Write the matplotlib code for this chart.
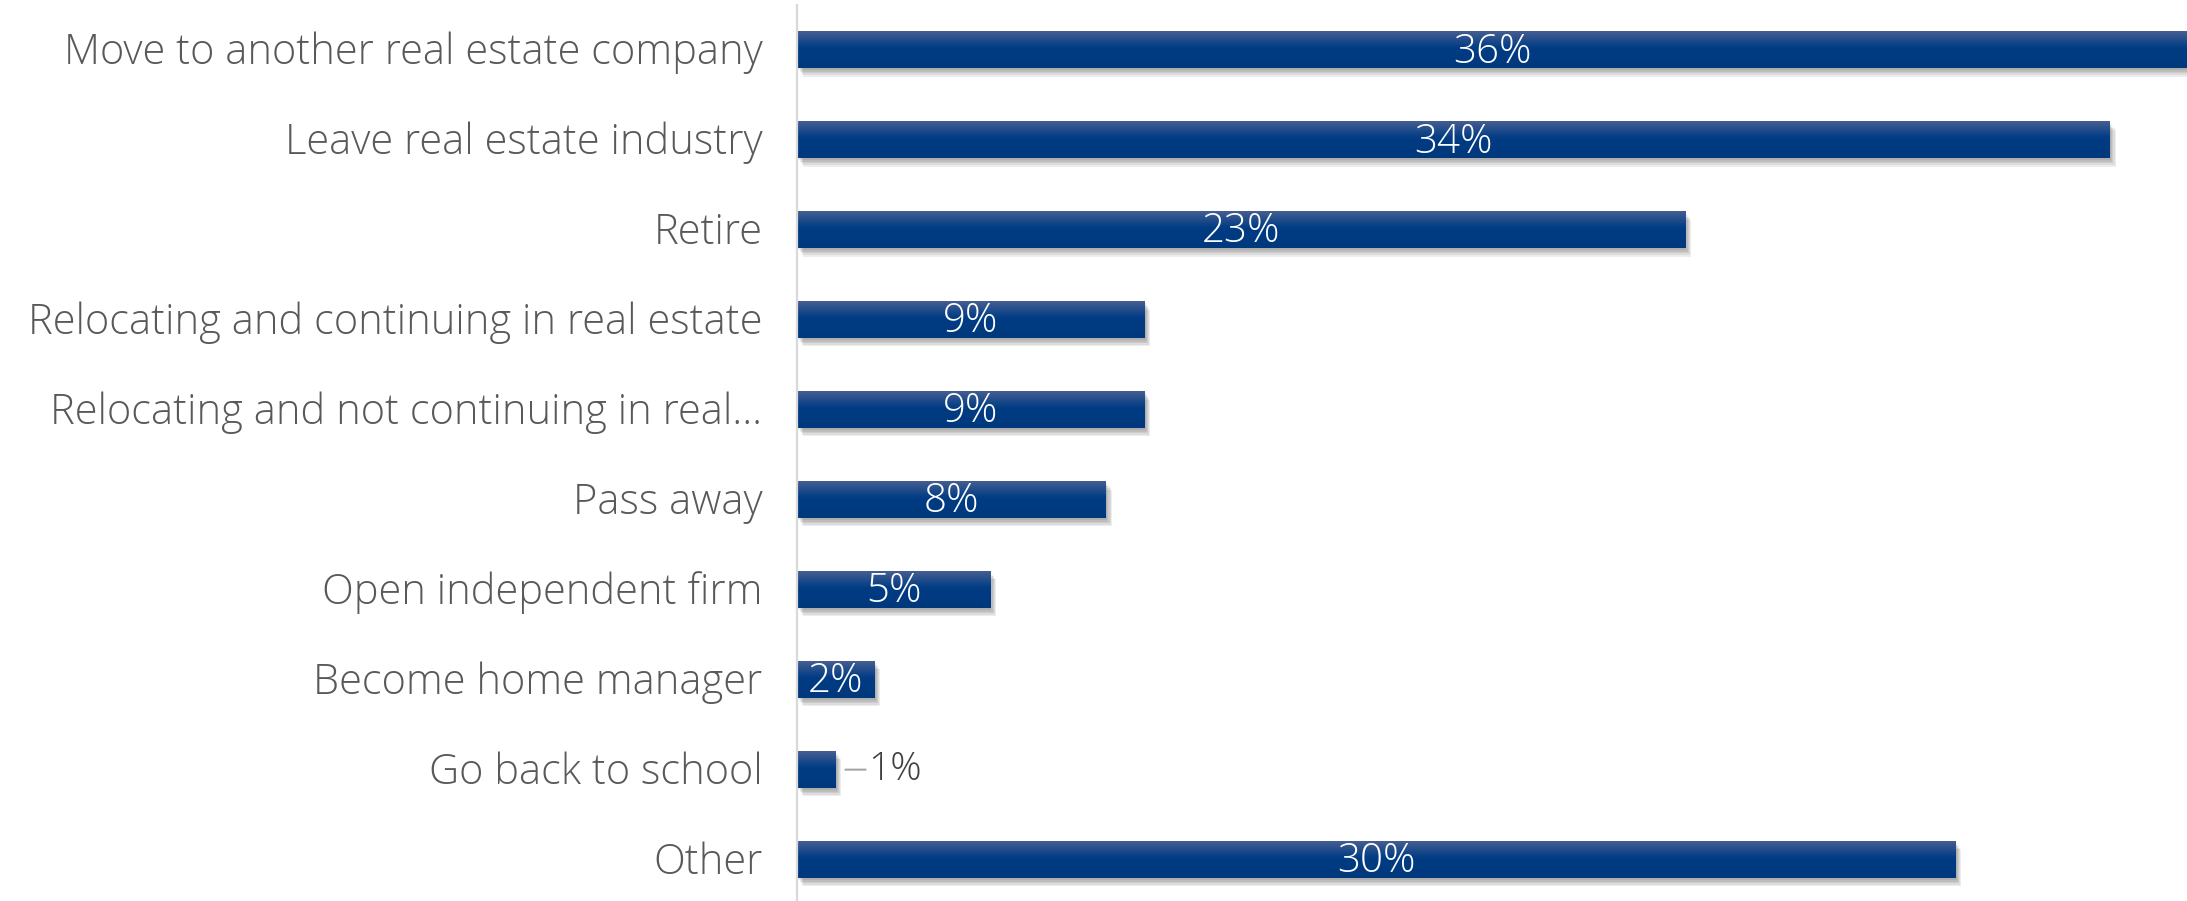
import matplotlib.pyplot as plt
import matplotlib.patheffects as pe
import matplotlib.transforms as mtransforms
import numpy as np

plt.rcParams['font.family'] = ['Open Sans', 'DejaVu Sans']

categories = [
    "Move to another real estate company",
    "Leave real estate industry",
    "Retire",
    "Relocating and continuing in real estate",
    "Relocating and not continuing in real\u2026",
    "Pass away",
    "Open independent firm",
    "Become home manager",
    "Go back to school",
    "Other",
]
values = [36, 34, 23, 9, 9, 8, 5, 2, 1, 30]
value_labels = ["36%", "34%", "23%", "9%", "9%", "8%", "5%", "2%", "1%", "30%"]

fig = plt.figure(figsize=(21.87, 9.01), dpi=100)
ax = fig.add_axes([797 / 2187, 0, 1 - 797 / 2187, 1 - 5 / 901])

y = np.arange(len(categories))
h = 0.41

# soft drop shadow approximated with stacked offset shadows
shadow = [pe.SimplePatchShadow(offset=(o, -o * 1.4), shadow_rgbFace='#000000', alpha=0.07)
          for o in (1.0, 1.8, 2.6, 3.4, 4.2)]
bars = ax.barh(y, values, height=h, color='#003a80', zorder=2)
for b in bars:
    b.set_path_effects(shadow + [pe.Normal()])

# vertical gradient on each bar: lighter at the top
grad = np.linspace(0, 1, 64)
top = np.array([0x45, 0x5e, 0x92]) / 255
mid = np.array([0x00, 0x3c, 0x84]) / 255
bot = np.array([0x00, 0x38, 0x7c]) / 255
cols = []
for g in grad:
    if g < 0.45:
        t = g / 0.45
        cols.append(top * (1 - t) + mid * t)
    else:
        t = (g - 0.45) / 0.55
        cols.append(mid * (1 - t) + bot * t)
img = np.array(cols)[:, None, :]
for yi, v in zip(y, values):
    ax.imshow(img, extent=[0, v, yi + h / 2, yi - h / 2], aspect='auto',
              interpolation='bilinear', zorder=3)

down = mtransforms.offset_copy(ax.transData, fig=fig, x=0, y=-1.5, units='points')
for yi, v, lab in zip(y, values, value_labels):
    if v >= 2:
        ax.text(v / 2, yi, lab, ha='center', va='center', color='white',
                fontsize=29, fontweight='light', zorder=5, transform=down)
    else:
        ax.annotate(lab, xy=(v, yi), xytext=(v + 0.85, yi), ha='left', va='center',
                    color='#404040', fontsize=28, fontweight='light',
                    arrowprops=dict(arrowstyle='-', color='#a6a6a6', lw=1.5,
                                    shrinkA=0, shrinkB=7))

ax.set_xlim(0, 36)
ax.set_ylim(9.46, -0.5)
ax.set_yticks(y)
ax.set_yticklabels(categories, fontsize=30, fontweight='light', color='#595959')
ax.tick_params(axis='y', length=0, pad=25)
up = mtransforms.ScaledTranslation(0, 1.5 / 72, fig.dpi_scale_trans)
for lbl in ax.get_yticklabels():
    lbl.set_transform(lbl.get_transform() + up)
ax.set_xticks([])
for s in ['top', 'right', 'bottom']:
    ax.spines[s].set_visible(False)
ax.spines['left'].set_color('#d9d9d9')
ax.spines['left'].set_linewidth(1.6)
ax.spines['left'].set_zorder(6)

fig.savefig('out.png', dpi=100, facecolor='white')
